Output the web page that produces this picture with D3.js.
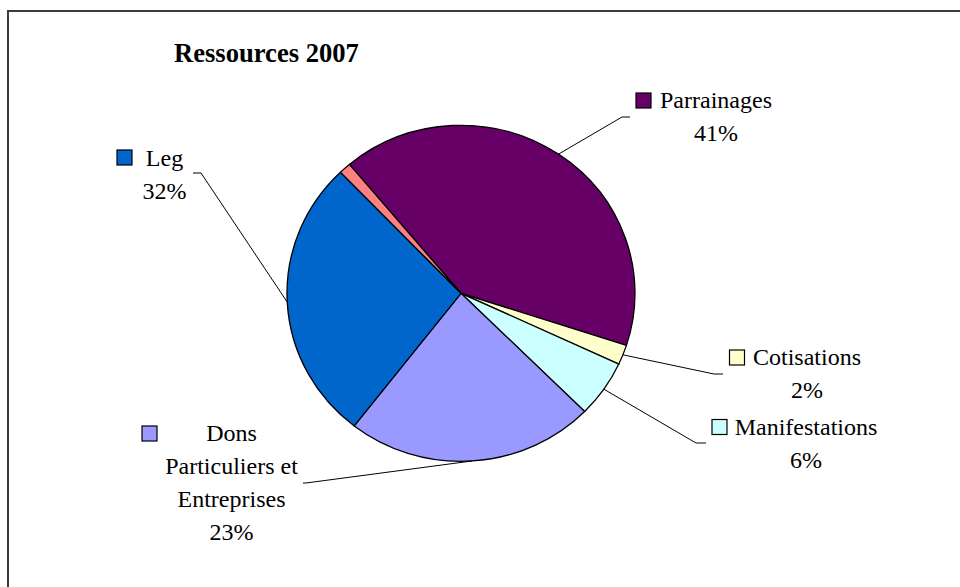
<!DOCTYPE html>
<html>
<head>
<meta charset="utf-8">
<script src="https://cdn.jsdelivr.net/npm/d3@7"></script>
<style>
	html, body { margin: 0; padding: 0; background: #fff; }
	#vis-pizza { width: 960px; height: 587px; }
</style>
</head>
<body>
<div id="vis-pizza"></div>
<script>
// Dados
const categorias = ["Parrainages", "Cotisations", "Manifestations", "Dons Particuliers et Entreprises", "Leg", "Autres"];
const valores = [41.1, 1.9, 5.5, 23.1, 27.3, 1.1];
const rotulosPct = ["41%", "2%", "6%", "23%", "32%", null];
const linhasNome = [["Parrainages"], ["Cotisations"], ["Manifestations"], ["Dons", "Particuliers et", "Entreprises"], ["Leg"], null];
const cores = ["#660066", "#FFFFCC", "#CCFFFF", "#9999FF", "#0066CC", "#FF8080"];
const titulo = "Ressources 2007";

// Posicao dos rotulos (layout do grafico)
const layoutRotulos = [
	{ cx: 716, y0: 107.5, quad: [636, 93], cotovelo: [622, 117], fim: [630, 117] },
	{ cx: 807, y0: 365, quad: [729.5, 350], cotovelo: [714, 374], fim: [723, 374] },
	{ cx: 806, y0: 434.5, quad: [712, 419.5], cotovelo: [696, 443], fim: [706, 443] },
	{ cx: 231.5, y0: 441, quad: [142, 426], cotovelo: [306, 483], fim: [303, 483] },
	{ cx: 164.5, y0: 165.5, quad: [117, 150], cotovelo: [201, 173], fim: [193, 173] },
	null
];

function montarGraficoPizza() {

	const container = d3.select("#vis-pizza");
	container.selectAll("*").remove();

	const width = 960, height = 587;
	const centro = { x: 461, y: 293.3 };
	const rx = 174, ry = 168;
	const fonte = "'Liberation Serif', 'Times New Roman', serif";
	const entreLinhas = 33;

	const svg = container.append("svg")
		.attr("width", width)
		.attr("height", height);

	// Moldura
	svg.append("rect")
		.attr("x", 8)
		.attr("y", 11)
		.attr("width", 1000)
		.attr("height", 1000)
		.attr("fill", "#fff")
		.attr("stroke", "#3c3c3c")
		.attr("stroke-width", 2);

	// Titulo
	svg.append("text")
		.attr("x", 174)
		.attr("y", 62)
		.attr("font-family", fonte)
		.attr("font-size", "26.6px")
		.attr("font-weight", "bold")
		.attr("fill", "#000")
		.text(titulo);

	// Pizza
	const inicio = -39.9 * Math.PI / 180;
	const pie = d3.pie()
		.sort(null)
		.value(d => d)
		.startAngle(inicio)
		.endAngle(inicio + 2 * Math.PI);

	const fatias = pie(valores);

	const arc = d3.arc().innerRadius(0).outerRadius(rx);
	const arcBorda = d3.arc().innerRadius(rx).outerRadius(rx);

	const g = svg.append("g")
		.attr("transform", `translate(${centro.x}, ${centro.y}) scale(1, ${ry / rx})`);

	g.selectAll("path")
		.data(fatias)
		.join("path")
		.attr("d", arc)
		.attr("fill", (d, i) => cores[i])
		.attr("stroke", "#000")
		.attr("stroke-width", 1.3)
		.attr("vector-effect", "non-scaling-stroke");

	// Linhas de chamada e rotulos
	fatias.forEach((d, i) => {
		const lay = layoutRotulos[i];
		if (!lay) return;

		const [px, py] = arcBorda.centroid(d);
		const inicioLinha = [centro.x + px, centro.y + py * ry / rx];

		svg.append("path")
			.attr("d", d3.line()([inicioLinha, lay.cotovelo, lay.fim]))
			.attr("fill", "none")
			.attr("stroke", "#000")
			.attr("stroke-width", 1);

		svg.append("rect")
			.attr("x", lay.quad[0])
			.attr("y", lay.quad[1])
			.attr("width", 15)
			.attr("height", 15)
			.attr("fill", cores[i])
			.attr("stroke", "#000")
			.attr("stroke-width", 1.2);

		const linhas = linhasNome[i].concat([rotulosPct[i]]);
		linhas.forEach((t, k) => {
			svg.append("text")
				.attr("x", lay.cx)
				.attr("y", lay.y0 + k * entreLinhas)
				.attr("text-anchor", "middle")
				.attr("font-family", fonte)
				.attr("font-size", "24px")
				.attr("fill", "#000")
				.text(t);
		});
	});

	return svg;
}

montarGraficoPizza();
</script>
</body>
</html>
